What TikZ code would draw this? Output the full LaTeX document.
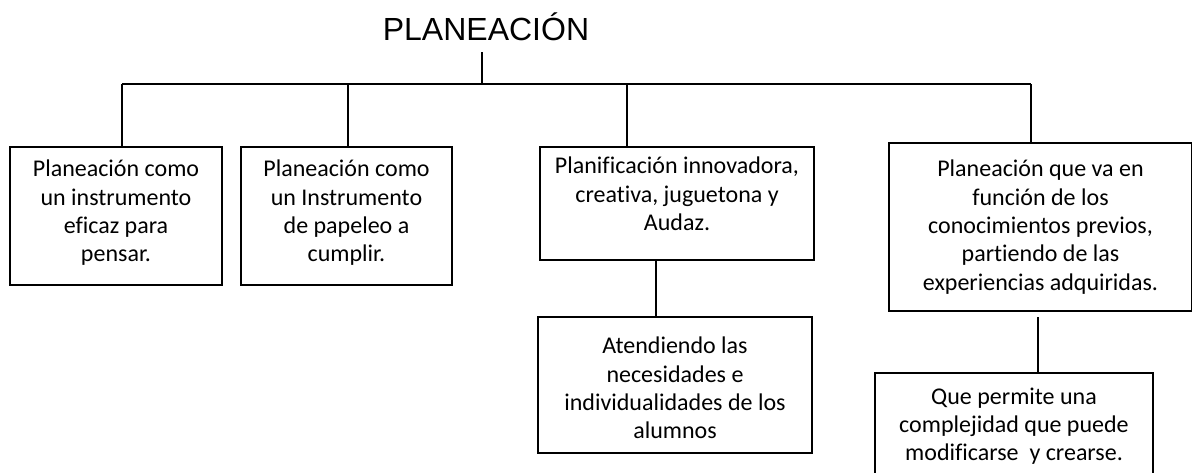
\documentclass[tikz,border=0pt]{standalone}
\usepackage{fontspec}
\setmainfont{Carlito}[Ligatures=NoCommon]
\newfontfamily\arialfont{Liberation Sans}
\begin{document}
\begin{tikzpicture}[x=1pt,y=-1pt,
  boxnode/.style={draw=black,line width=1.6pt,inner sep=0pt,minimum width=#1},
  txt/.style={align=center,font=\fontsize{24}{28.3}\selectfont,inner sep=0pt},
  conn/.style={draw=black,line width=1.6pt}]
\useasboundingbox (0,0) rectangle (1192,472);
% title
\node[font=\arialfont\fontsize{32}{36}\selectfont,inner sep=0pt,anchor=base] (title) at (486,40) {PLANEACIÓN};
\coordinate (top) at (482,52);
\coordinate (j0) at (482,84);
\coordinate (jL) at (122,84);
\coordinate (jR) at (1031,84);
\coordinate (j2) at (348,84);
\coordinate (j3) at (627,84);
% boxes
\node[boxnode=212pt,minimum height=138pt] (b1) at (116,216) {};
\node[txt] (t1) at (116,213) {Planeación como\\un instrumento\\eficaz para\\pensar.};
\node[boxnode=211pt,minimum height=138pt] (b2) at (346.5,216) {};
\node[txt] (t2) at (346.5,213) {Planeación como\\un Instrumento\\de papeleo a\\cumplir.};
\node[boxnode=274pt,minimum height=113pt] (b3) at (677,203.5) {};
\node[txt] (t3) at (677,194) {Planificación innovadora,\\creativa, juguetona y\\Audaz.};
\node[boxnode=303pt,minimum height=168pt] (b4) at (1040.5,227) {};
\node[txt] (t4) at (1040.5,227) {Planeación que va en\\función de los\\conocimientos previos,\\partiendo de las\\experiencias adquiridas.};
\node[boxnode=274pt,minimum height=136pt] (b5) at (675,385) {};
\node[txt] (t5) at (675,388) {Atendiendo las\\necesidades e\\individualidades de los\\alumnos};
\node[boxnode=278pt,minimum height=110pt] (b6) at (1014,428) {};
\node[txt] (t6) at (1014,426) {Que permite una\\complejidad que puede\\modificarse\ \ y crearse.};
% connectors
\draw[conn] (top) -- (j0);
\draw[conn] (jL) -- (jR);
\draw[conn] (jL) -- (jL |- b1.north);
\draw[conn] (j2) -- (j2 |- b2.north);
\draw[conn] (j3) -- (j3 |- b3.north);
\draw[conn] (jR) -- (jR |- b4.north);
\coordinate (c3) at (656,260);
\draw[conn] (c3 |- b3.south) -- (c3 |- b5.north);
\coordinate (c4) at (1038,317);
\draw[conn] (c4) -- (c4 |- b6.north);
\end{tikzpicture}
\end{document}
